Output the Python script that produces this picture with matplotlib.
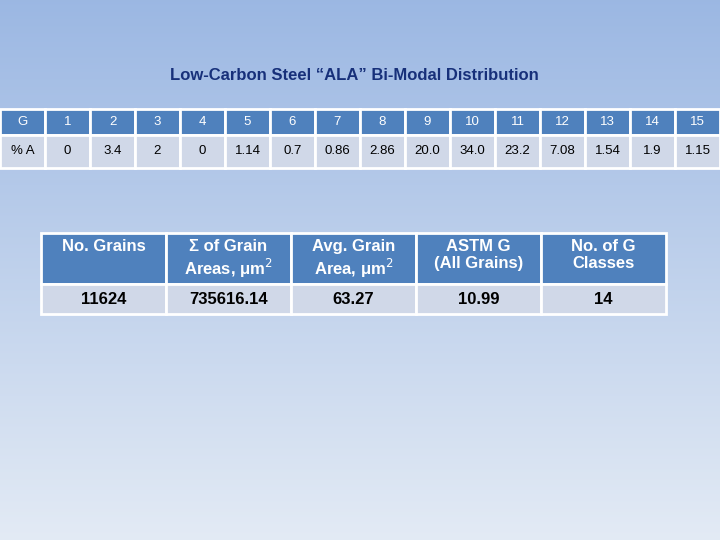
import numpy as np
import matplotlib.pyplot as plt
from matplotlib.patches import Rectangle

plt.rcParams['font.family'] = ['Liberation Sans', 'DejaVu Sans']

# data
g_classes = ["1", "2", "3", "4", "5", "6", "7", "8", "9", "10", "11", "12", "13", "14", "15"]
pct_area = ["0", "3.4", "2", "0", "1.14", "0.7", "0.86", "2.86", "20.0", "34.0", "23.2", "7.08", "1.54", "1.9", "1.15"]
summary_heads = ["No. Grains", "Σ of Grain\nAreas, μm$^2$", "Avg. Grain\nArea, μm$^2$", "ASTM G\n(All Grains)", "No. of G\nClasses"]
summary_vals = ["11624", "735616.14", "63.27", "10.99", "14"]

HEAD = "#4F81BD"
BODY = "#D0D8E8"

fig = plt.figure(figsize=(7.2, 5.4), dpi=100)
ax = fig.add_axes([0, 0, 1, 1])
ax.set_xlim(0, 720)
ax.set_ylim(540, 0)
ax.axis("off")

# background gradient
grad = np.linspace(0, 1, 256).reshape(-1, 1)
top = np.array([0.61, 0.72, 0.89])
bot = np.array([0.89, 0.92, 0.96])
img = top + (bot - top) * grad[..., None]
ax.imshow(img, extent=[0, 720, 540, 0], aspect="auto", zorder=0)

ax.text(354, 75, "Low-Carbon Steel \u201cALA\u201d Bi-Modal Distribution", ha="center", va="center",
        fontsize=12, fontweight="bold", color="#17307A")

def cell(x, y, w, h, color, text, tcolor, size, bold=False, va="center"):
    ax.add_patch(Rectangle((x, y), w, h, facecolor=color, edgecolor="white", lw=2, zorder=2))
    ty = y + h / 2 if va == "center" else y + 6
    ax.text(x + w / 2, ty, text, ha="center", va=va, fontsize=size, color=tcolor,
            fontweight="bold" if bold else "normal", zorder=3, linespacing=1.15)

# top table
cw = 720 / 16
cell(0, 109, cw, 26, HEAD, "G", "white", 9.5)
cell(0, 135, cw, 33, BODY, "% A", "black", 9.5)
for i, (g, p) in enumerate(zip(g_classes, pct_area)):
    x = (i + 1) * cw
    cell(x, 109, cw, 26, HEAD, g, "white", 9.5)
    cell(x, 135, cw, 33, BODY, p, "black", 9.5)

# summary table
bw = 125
for i, (h, v) in enumerate(zip(summary_heads, summary_vals)):
    x = 41 + i * bw
    cell(x, 233, bw, 51, HEAD, h, "white", 12, bold=True, va="top")
    cell(x, 284, bw, 30, BODY, v, "black", 12, bold=True)

fig.savefig("out.png", dpi=100)
